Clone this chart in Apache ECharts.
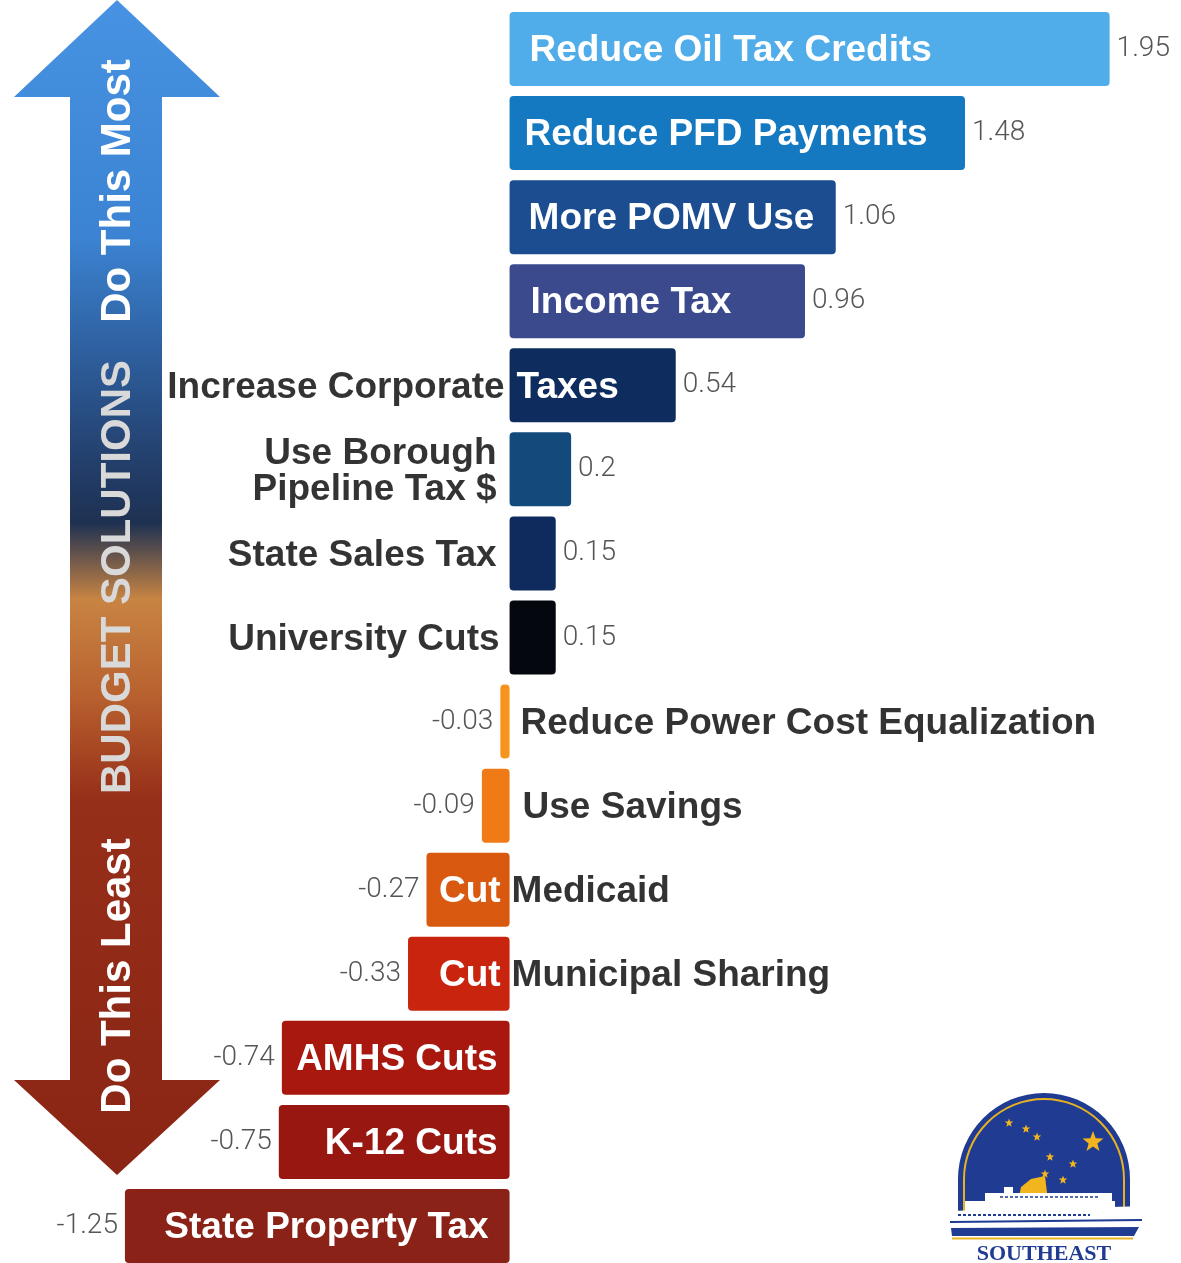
<!DOCTYPE html>
<html>
<head>
<meta charset="utf-8">
<script src="https://cdn.jsdelivr.net/npm/echarts@6/dist/echarts.min.js"></script>
<style>
  html, body { margin: 0; padding: 0; background: #fff; }
  #main { width: 1181px; height: 1263px; }
</style>
</head>
<body>
<div id="main"></div>
<script>
// budget solutions - ranked score per option

var categories = [
  'Reduce Oil Tax Credits', 'Reduce PFD Payments', 'More POMV Use', 'Income Tax',
  'Increase Corporate Taxes', 'Use Borough Pipeline Tax $', 'State Sales Tax', 'University Cuts',
  'Reduce Power Cost Equalization', 'Use Savings', 'Cut Medicaid', 'Cut Municipal Sharing',
  'AMHS Cuts', 'K-12 Cuts', 'State Property Tax'
];
var values = [1.95, 1.48, 1.06, 0.96, 0.54, 0.2, 0.15, 0.15, -0.03, -0.09, -0.27, -0.33, -0.74, -0.75, -1.25];

// part of each name written inside the bar (white) and part written beside it (black)
var insideText = ['Reduce Oil Tax Credits', 'Reduce PFD Payments', 'More POMV Use', 'Income Tax',
  'Taxes', '', '', '', '', '', 'Cut', 'Cut', 'AMHS Cuts', 'K-12 Cuts', 'State Property Tax'];
var outsideText = ['', '', '', '', 'Increase Corporate', 'Use Borough\nPipeline Tax $', 'State Sales Tax',
  'University Cuts', 'Reduce Power Cost Equalization', 'Use Savings', 'Medicaid', 'Municipal Sharing', '', '', ''];

// styles
var barColors = ['#50ADE9', '#1479C0', '#1B4D90', '#3A4A8C', '#0E2C5E', '#124A7B', '#0F2A5C', '#05070F',
  '#F7941E', '#F07B16', '#D8590F', '#C8240E', '#A8180E', '#981711', '#8A2217'];
var insideDist = [20, 15, 19, 21, 7, 0, 0, 0, 0, 0, 9, 9, 12, 12, 21];
var outsideDist = [0, 0, 0, 0, 5, 13, 13, 10, 11, 13, 2, 2, 0, 0, 0];

var myChart = echarts.init(document.getElementById('main'));

var boldFont = {
  fontFamily: 'Liberation Sans',
  fontWeight: 'bold',
  fontSize: 37
};

var barData = values.map(function (v, i) {
  return {
    value: v,
    itemStyle: { color: barColors[i] },
    label: {
      show: insideText[i] !== '',
      formatter: insideText[i],
      position: v >= 0 ? 'insideLeft' : 'insideRight',
      distance: insideDist[i],
      offset: [0, 2]
    }
  };
});

var valueData = values.map(function (v) {
  return {
    value: v,
    label: { position: v >= 0 ? 'right' : 'left' }
  };
});

var outsideData = [];
outsideText.forEach(function (t, i) {
  if (!t) return;
  outsideData.push({
    value: [0, categories[i]],
    label: {
      formatter: t,
      position: values[i] >= 0 ? 'left' : 'right',
      distance: outsideDist[i],
      offset: [0, 2]
    }
  });
});

function starPoints(cx, cy, r) {
  var pts = [];
  for (var k = 0; k < 10; k++) {
    var a = -Math.PI / 2 + k * Math.PI / 5;
    var rr = k % 2 === 0 ? r : r * 0.42;
    pts.push([cx + rr * Math.cos(a), cy + rr * Math.sin(a)]);
  }
  return pts;
}

var logoStars = [[1009, 1123, 4.5], [1026, 1129, 4.5], [1037, 1137, 4.5], [1050, 1157, 4.5],
  [1073, 1164, 4.5], [1045, 1174, 4.5], [1063, 1180, 4.5], [1093, 1142, 11]];

var graphics = [
  // big arrow
  {
    type: 'polygon',
    shape: {
      points: [[117, 0], [220, 97], [162, 97], [162, 1080], [220, 1080], [117, 1175],
        [14, 1080], [70, 1080], [70, 97], [14, 97]]
    },
    style: {
      fill: {
        type: 'linear', x: 0, y: 0, x2: 0, y2: 1,
        colorStops: [
          { offset: 0, color: '#4792E2' },
          { offset: 0.2, color: '#3C84D3' },
          { offset: 0.3, color: '#2E5F9E' },
          { offset: 0.4, color: '#223D68' },
          { offset: 0.445, color: '#1E3152' },
          { offset: 0.51, color: '#C88443' },
          { offset: 0.59, color: '#B9622F' },
          { offset: 0.68, color: '#962F19' },
          { offset: 1, color: '#8A2515' }
        ]
      }
    }
  },
  {
    type: 'text', x: 118, y: 191, rotation: Math.PI / 2,
    style: { text: 'Do This Most', fill: '#fff', font: 'bold 42px "Liberation Sans"', align: 'center', verticalAlign: 'middle' }
  },
  {
    type: 'text', x: 118, y: 577, rotation: Math.PI / 2,
    style: { text: 'BUDGET SOLUTIONS', fill: '#D9D9D9', font: 'bold 42px "Liberation Sans"', align: 'center', verticalAlign: 'middle' }
  },
  {
    type: 'text', x: 118, y: 976, rotation: Math.PI / 2,
    style: { text: 'Do This Least', fill: '#fff', font: 'bold 42px "Liberation Sans"', align: 'center', verticalAlign: 'middle' }
  },
  // logo
  {
    type: 'rect', shape: { x: 958, y: 1093, width: 172, height: 135, r: [86, 86, 0, 0] },
    style: { fill: '#1F3B92' }
  },
  {
    type: 'rect', shape: { x: 964, y: 1099, width: 160, height: 125, r: [80, 80, 0, 0] },
    style: { fill: 'none', stroke: '#E8B222', lineWidth: 2 }
  },
  {
    type: 'polygon',
    shape: { points: [[1018, 1201], [1021, 1187], [1031, 1179], [1045, 1176], [1048, 1201]] },
    style: { fill: '#F2B51E' }
  },
  { type: 'rect', shape: { x: 1004, y: 1187, width: 9, height: 7 }, style: { fill: '#fff' } },
  { type: 'rect', shape: { x: 985, y: 1193, width: 127, height: 9 }, style: { fill: '#fff' } },
  { type: 'rect', shape: { x: 965, y: 1201, width: 150, height: 11 }, style: { fill: '#fff' } },
  {
    type: 'polygon',
    shape: { points: [[947, 1211], [1150, 1206], [1138, 1228], [951, 1229]] },
    style: { fill: '#fff' }
  },
  { type: 'line', shape: { x1: 958, y1: 1215, x2: 1090, y2: 1215 }, style: { stroke: '#1F3B92', lineWidth: 2, lineDash: [3, 2] } },
  { type: 'line', shape: { x1: 1000, y1: 1197, x2: 1100, y2: 1197 }, style: { stroke: '#1F3B92', lineWidth: 1.5, lineDash: [3, 2] } },
  { type: 'line', shape: { x1: 950, y1: 1222, x2: 1142, y2: 1220 }, style: { stroke: '#1F3B92', lineWidth: 2 } },
  {
    type: 'polygon',
    shape: { points: [[951, 1228], [1139, 1227], [1134, 1236], [952, 1236]] },
    style: { fill: '#1F3B92' }
  },
  { type: 'line', shape: { x1: 952, y1: 1238.5, x2: 1133, y2: 1238.5 }, style: { stroke: '#E8B222', lineWidth: 2 } },
  {
    type: 'text', x: 1044, y: 1254,
    style: { text: 'SOUTHEAST', fill: '#1F3B92', font: 'bold 22px "Liberation Serif"', align: 'center', verticalAlign: 'middle', letterSpacing: 10 }
  }
];

logoStars.forEach(function (s) {
  graphics.push({
    type: 'polygon',
    shape: { points: starPoints(s[0], s[1], s[2]) },
    style: { fill: '#F2B51E' }
  });
});

myChart.setOption({
  animation: false,
  backgroundColor: '#fff',
  grid: { left: 48, width: 1077, top: 7, height: 1261, outerBoundsMode: 'none' },
  xAxis: {
    type: 'value', min: -1.5, max: 2, show: false,
    splitLine: { show: false }
  },
  yAxis: {
    type: 'category', data: categories, inverse: true, show: false
  },
  graphic: graphics,
  series: [
    {
      type: 'bar',
      data: barData,
      barWidth: 74,
      itemStyle: { borderRadius: 4 },
      label: Object.assign({ color: '#fff' }, boldFont),
      z: 2
    },
    {
      // value labels
      type: 'bar',
      data: valueData,
      barWidth: 74,
      barGap: '-100%',
      silent: true,
      itemStyle: { color: 'rgba(0,0,0,0)' },
      label: {
        show: true,
        distance: 7,
        color: '#555',
        fontFamily: 'Roboto',
        fontWeight: 300,
        fontSize: 28
      },
      z: 3
    },
    {
      // names written beside the bars
      type: 'scatter',
      data: outsideData,
      symbolSize: 0,
      silent: true,
      label: Object.assign({ show: true, color: '#000', lineHeight: 36, textBorderWidth: 0 }, boldFont),
      z: 4
    }
  ]
});
</script>
</body>
</html>
